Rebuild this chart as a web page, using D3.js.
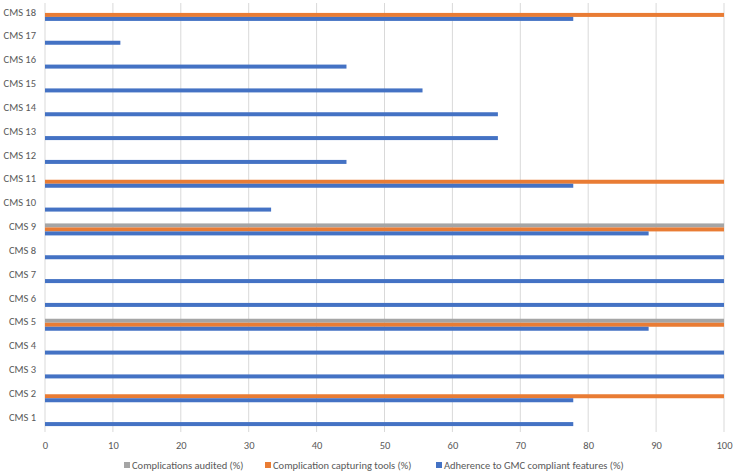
<!DOCTYPE html>
<html><head><meta charset="utf-8">
<script src="https://cdn.jsdelivr.net/npm/d3@7"></script>
<style>body{margin:0;background:#fff;} text{font-family:Carlito,Lato,"Open Sans",sans-serif;fill:#595959;}</style>
</head><body><svg id="c" width="734" height="473"></svg>
<script>
const categories = ["CMS 1","CMS 2","CMS 3","CMS 4","CMS 5","CMS 6","CMS 7","CMS 8","CMS 9","CMS 10","CMS 11","CMS 12","CMS 13","CMS 14","CMS 15","CMS 16","CMS 17","CMS 18"];
const seriesNames = ["Complications audited (%)","Complication capturing tools (%)","Adherence to GMC compliant features  (%)"];
const audited = [0,0,0,0,100,0,0,0,100,0,0,0,0,0,0,0,0,0];
const tools = [0,100,0,0,100,0,0,0,100,0,100,0,0,0,0,0,0,100];
const adherence = [77.8,77.8,100,100,88.9,100,100,100,88.9,33.3,77.8,44.4,66.7,66.7,55.6,44.4,11.1,77.8];
const xTicks = [0,10,20,30,40,50,60,70,80,90,100];
const colors = ["#A5A5A5","#E97C34","#4472C4"];

const svg = d3.select("#c");
const mLeft = 45, mRight = 724, mTop = 3, mBottom = 432;
const x = d3.scaleLinear().domain([0,100]).range([mLeft,mRight]);
const y = d3.scaleBand().domain(categories.slice().reverse()).range([mTop,mBottom]);
const sub = d3.scaleBand().domain([0,1,2]).range([-6,6]);

svg.append("g").selectAll("line").data(xTicks).join("line")
  .attr("x1",d=>x(d)).attr("x2",d=>x(d)).attr("y1",mTop).attr("y2",mBottom)
  .attr("stroke","#d9d9d9").attr("stroke-width",1);

const series = [audited, tools, adherence];
series.forEach((vals,si)=>{
  svg.append("g").selectAll("rect").data(categories).join("rect")
    .attr("x",x(0))
    .attr("y",(c)=>y(c)+y.bandwidth()/2+sub(si))
    .attr("width",(c,i)=>x(vals[i])-x(0))
    .attr("height",sub.bandwidth())
    .attr("fill",colors[si]);
});

const xAxis = d3.axisBottom(x).tickValues(xTicks).tickSize(0).tickPadding(0);
const gx = svg.append("g").attr("transform",`translate(0,${mBottom})`).call(xAxis);
gx.select(".domain").remove();
gx.selectAll("text").attr("dy",null).attr("y",17).style("font-size","10.5px").style("fill","#595959").style("font-family","Carlito,Lato,'Open Sans',sans-serif");

const yAxis = d3.axisLeft(y).tickSize(0).tickPadding(0);
const gy = svg.append("g").attr("transform",`translate(36,-2)`).call(yAxis);
gy.select(".domain").remove();
gy.selectAll("text").attr("dy","0.25em").style("font-size","10.5px").style("fill","#595959").style("font-family","Carlito,Lato,'Open Sans',sans-serif");

const legX = [124,265,436];
const leg = svg.append("g").selectAll("g").data(seriesNames).join("g")
  .attr("transform",(d,i)=>`translate(${legX[i]},465)`);
leg.append("rect").attr("x",0).attr("y",-3).attr("width",6).attr("height",6).attr("fill",(d,i)=>colors[i]);
leg.append("text").attr("x",8).attr("y",0).attr("dy","0.35em").style("font-size","10.5px").text(d=>d);
</script></body></html>
